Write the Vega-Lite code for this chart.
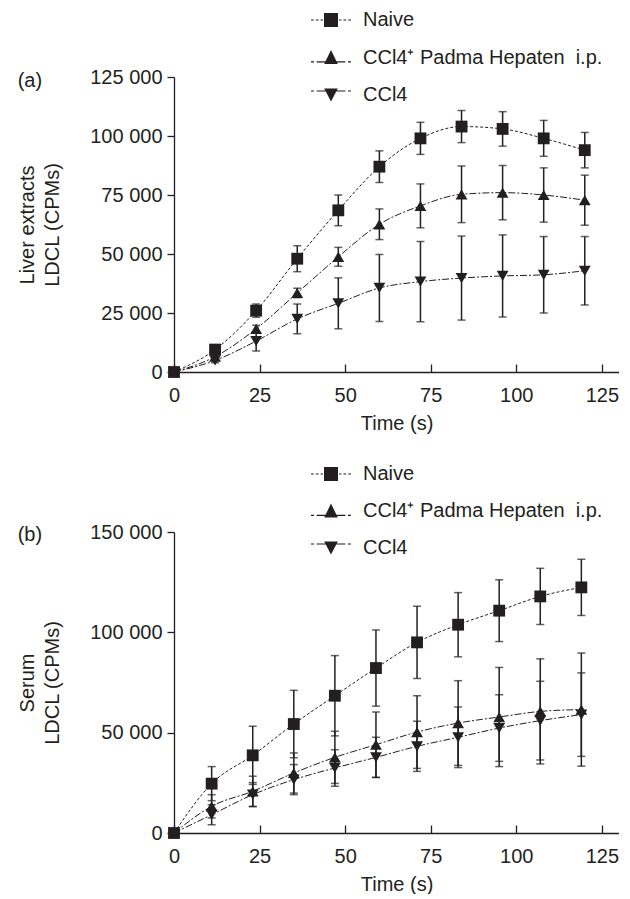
{
  "$schema": "https://vega.github.io/schema/vega-lite/v6.json",
  "autosize": {"type": "pad"},
  "padding": {"left": 17, "top": 0, "right": 0, "bottom": 0},
  "background": "white",
  "config": {
    "locale": {"number": {"decimal": ".", "thousands": " ", "grouping": [3], "currency": ["", ""]}},
    "font": "Liberation Sans",
    "view": {"stroke": null},
    "concat": {"spacing": 21},
    "axis": {
      "grid": false,
      "labelFont": "Liberation Sans", "labelFontSize": 20, "labelColor": "#231f20",
      "titleFont": "Liberation Sans", "titleFontSize": 20, "titleFontWeight": "normal", "titleColor": "#231f20",
      "domainColor": "#231f20", "domainWidth": 1.3, "tickColor": "#231f20", "tickWidth": 1.3,
      "labelFlush": false, "labelOverlap": false
    },
    "legend": {
      "labelFont": "Liberation Sans", "labelFontSize": 20, "labelColor": "#231f20", "labelLimit": 400,
      "padding": 0, "symbolStrokeWidth": 0, "symbolFillColor": "#231f20", "symbolStrokeColor": "transparent"
    },
    "title": {"font": "Liberation Sans", "fontSize": 20, "fontWeight": "normal", "color": "#231f20"}
  },
  "datasets": {
    "d": [
      {"panel": "a", "series": "Naive", "t": 0, "v": 0, "e": 0},
      {"panel": "a", "series": "Naive", "t": 12, "v": 9500, "e": 1200},
      {"panel": "a", "series": "Naive", "t": 24, "v": 26000, "e": 2800},
      {"panel": "a", "series": "Naive", "t": 36, "v": 48000, "e": 5500},
      {"panel": "a", "series": "Naive", "t": 48, "v": 68500, "e": 6500},
      {"panel": "a", "series": "Naive", "t": 60, "v": 87000, "e": 6700},
      {"panel": "a", "series": "Naive", "t": 72, "v": 99000, "e": 6800},
      {"panel": "a", "series": "Naive", "t": 84, "v": 104000, "e": 6800},
      {"panel": "a", "series": "Naive", "t": 96, "v": 103000, "e": 7300},
      {"panel": "a", "series": "Naive", "t": 108, "v": 99000, "e": 7600},
      {"panel": "a", "series": "Naive", "t": 120, "v": 94000, "e": 7500},
      {"panel": "a", "series": "CCl4⁺ Padma Hepaten\u00a0 i.p.", "t": 0, "v": 0, "e": 0},
      {"panel": "a", "series": "CCl4⁺ Padma Hepaten\u00a0 i.p.", "t": 12, "v": 6500, "e": 800},
      {"panel": "a", "series": "CCl4⁺ Padma Hepaten\u00a0 i.p.", "t": 24, "v": 18300, "e": 1500},
      {"panel": "a", "series": "CCl4⁺ Padma Hepaten\u00a0 i.p.", "t": 36, "v": 33500, "e": 2000},
      {"panel": "a", "series": "CCl4⁺ Padma Hepaten\u00a0 i.p.", "t": 48, "v": 48800, "e": 4000},
      {"panel": "a", "series": "CCl4⁺ Padma Hepaten\u00a0 i.p.", "t": 60, "v": 62600, "e": 6500},
      {"panel": "a", "series": "CCl4⁺ Padma Hepaten\u00a0 i.p.", "t": 72, "v": 70400, "e": 9300},
      {"panel": "a", "series": "CCl4⁺ Padma Hepaten\u00a0 i.p.", "t": 84, "v": 75300, "e": 12000},
      {"panel": "a", "series": "CCl4⁺ Padma Hepaten\u00a0 i.p.", "t": 96, "v": 76000, "e": 11500},
      {"panel": "a", "series": "CCl4⁺ Padma Hepaten\u00a0 i.p.", "t": 108, "v": 75000, "e": 11500},
      {"panel": "a", "series": "CCl4⁺ Padma Hepaten\u00a0 i.p.", "t": 120, "v": 72800, "e": 10600},
      {"panel": "a", "series": "CCl4", "t": 0, "v": 0, "e": 0},
      {"panel": "a", "series": "CCl4", "t": 12, "v": 4900, "e": 1000},
      {"panel": "a", "series": "CCl4", "t": 24, "v": 13100, "e": 4200},
      {"panel": "a", "series": "CCl4", "t": 36, "v": 22500, "e": 6300},
      {"panel": "a", "series": "CCl4", "t": 48, "v": 29100, "e": 10800},
      {"panel": "a", "series": "CCl4", "t": 60, "v": 35600, "e": 14200},
      {"panel": "a", "series": "CCl4", "t": 72, "v": 38300, "e": 17000},
      {"panel": "a", "series": "CCl4", "t": 84, "v": 39800, "e": 17800},
      {"panel": "a", "series": "CCl4", "t": 96, "v": 40700, "e": 17400},
      {"panel": "a", "series": "CCl4", "t": 108, "v": 41200, "e": 16200},
      {"panel": "a", "series": "CCl4", "t": 120, "v": 42900, "e": 14500},
      {"panel": "b", "series": "Naive", "t": 0, "v": 0, "e": 0},
      {"panel": "b", "series": "Naive", "t": 11, "v": 24600, "e": 8500},
      {"panel": "b", "series": "Naive", "t": 23, "v": 38700, "e": 14500},
      {"panel": "b", "series": "Naive", "t": 35, "v": 54300, "e": 16800},
      {"panel": "b", "series": "Naive", "t": 47, "v": 68400, "e": 20000},
      {"panel": "b", "series": "Naive", "t": 59, "v": 82200, "e": 19000},
      {"panel": "b", "series": "Naive", "t": 71, "v": 95000, "e": 18000},
      {"panel": "b", "series": "Naive", "t": 83, "v": 103800, "e": 16000},
      {"panel": "b", "series": "Naive", "t": 95, "v": 110800, "e": 15400},
      {"panel": "b", "series": "Naive", "t": 107, "v": 117900, "e": 14000},
      {"panel": "b", "series": "Naive", "t": 119, "v": 122400, "e": 14000},
      {"panel": "b", "series": "CCl4⁺ Padma Hepaten\u00a0 i.p.", "t": 0, "v": 0, "e": 0},
      {"panel": "b", "series": "CCl4⁺ Padma Hepaten\u00a0 i.p.", "t": 11, "v": 13300, "e": 5800},
      {"panel": "b", "series": "CCl4⁺ Padma Hepaten\u00a0 i.p.", "t": 23, "v": 20800, "e": 7500},
      {"panel": "b", "series": "CCl4⁺ Padma Hepaten\u00a0 i.p.", "t": 35, "v": 29900, "e": 10000},
      {"panel": "b", "series": "CCl4⁺ Padma Hepaten\u00a0 i.p.", "t": 47, "v": 37700, "e": 13000},
      {"panel": "b", "series": "CCl4⁺ Padma Hepaten\u00a0 i.p.", "t": 59, "v": 44000, "e": 16300},
      {"panel": "b", "series": "CCl4⁺ Padma Hepaten\u00a0 i.p.", "t": 71, "v": 50300, "e": 18100},
      {"panel": "b", "series": "CCl4⁺ Padma Hepaten\u00a0 i.p.", "t": 83, "v": 54800, "e": 21100},
      {"panel": "b", "series": "CCl4⁺ Padma Hepaten\u00a0 i.p.", "t": 95, "v": 57800, "e": 24700},
      {"panel": "b", "series": "CCl4⁺ Padma Hepaten\u00a0 i.p.", "t": 107, "v": 60600, "e": 26200},
      {"panel": "b", "series": "CCl4⁺ Padma Hepaten\u00a0 i.p.", "t": 119, "v": 61500, "e": 28200},
      {"panel": "b", "series": "CCl4", "t": 0, "v": 0, "e": 0},
      {"panel": "b", "series": "CCl4", "t": 11, "v": 9100, "e": 5000},
      {"panel": "b", "series": "CCl4", "t": 23, "v": 19100, "e": 6000},
      {"panel": "b", "series": "CCl4", "t": 35, "v": 26600, "e": 7500},
      {"panel": "b", "series": "CCl4", "t": 47, "v": 32400, "e": 9100},
      {"panel": "b", "series": "CCl4", "t": 59, "v": 37700, "e": 10000},
      {"panel": "b", "series": "CCl4", "t": 71, "v": 43200, "e": 12500},
      {"panel": "b", "series": "CCl4", "t": 83, "v": 47700, "e": 15100},
      {"panel": "b", "series": "CCl4", "t": 95, "v": 52300, "e": 16600},
      {"panel": "b", "series": "CCl4", "t": 107, "v": 56000, "e": 19600},
      {"panel": "b", "series": "CCl4", "t": 119, "v": 59000, "e": 20800}
    ]
  },
  "vconcat": [
    {
      "width": 445,
      "height": 295,
      "title": {"text": "(a)", "anchor": "start", "frame": "bounds", "baseline": "middle", "offset": -101},
      "data": {"name": "d"},
      "transform": [{"filter": "datum.panel == 'a'"}],
      "encoding": {
        "x": {"field": "t", "type": "quantitative", "scale": {"domain": [0, 130]},
              "axis": {"title": "Time (s)", "values": [0, 25, 50, 75, 100, 125], "tickSize": -8, "labelPadding": 21, "titlePadding": 8}},
        "y": {"field": "v", "type": "quantitative", "scale": {"domain": [0, 125000]},
              "axis": {"title": ["Liver extracts", "LDCL (CPMs)"], "values": [0, 25000, 50000, 75000, 100000, 125000], "format": ",d", "tickSize": 7, "labelPadding": 5, "titlePadding": 27, "titleLineHeight": 25}}
      },
      "layer": [
        {
          "mark": {"type": "line", "interpolate": "monotone", "strokeWidth": 1, "color": "#231f20"},
          "encoding": {
            "detail": {"field": "series", "type": "nominal"},
            "strokeDash": {"field": "series", "type": "nominal",
              "scale": {"domain": ["Naive", "CCl4⁺ Padma Hepaten\u00a0 i.p.", "CCl4"], "range": [[3, 2], [7, 2, 2, 2], [7, 2, 2, 2]]}, "legend": null}
          }
        },
        {
          "mark": {"type": "errorbar", "ticks": {"size": 8, "thickness": 1.5, "color": "#231f20"}, "rule": {"strokeWidth": 1.5, "color": "#231f20"}},
          "encoding": {"yError": {"field": "e"}}
        },
        {
          "mark": {"type": "point", "filled": true, "opacity": 1, "color": "#231f20"},
          "encoding": {
            "shape": {"field": "series", "type": "nominal",
              "scale": {"domain": ["Naive", "CCl4⁺ Padma Hepaten\u00a0 i.p.", "CCl4"], "range": ["square", "triangle-up", "triangle-down"]}, "legend": null},
            "size": {"value": 140}
          }
        },
        {
          "transform": [{"filter": "false"}],
          "mark": {"type": "point", "filled": true, "opacity": 1, "color": "#231f20"},
          "encoding": {
            "shape": {"field": "series", "type": "nominal",
              "scale": {"domain": ["Naive", "CCl4⁺ Padma Hepaten\u00a0 i.p.", "CCl4"],
                "range": [
                  "M-1,-0.03H-0.86V0.03H-1Z M-0.76,-0.03H-0.62V0.03H-0.76Z M-0.52,-0.03H-0.4V0.03H-0.52Z M-0.35,-0.35H0.35V0.35H-0.35Z M0.4,-0.03H0.52V0.03H0.4Z M0.62,-0.03H0.76V0.03H0.62Z M0.86,-0.03H1V0.03H0.86Z",
                  "M-1,0.19H-0.85V0.25H-1Z M-0.72,0.19H-0.25V0.25H-0.72Z M0,-0.37L0.34,0.33H-0.34Z M0.25,0.19H0.72V0.25H0.25Z M0.85,0.19H1V0.25H0.85Z",
                  "M-1,-0.23H-0.85V-0.17H-1Z M-0.72,-0.23H-0.25V-0.17H-0.72Z M-0.34,-0.32H0.34L0,0.33Z M0.25,-0.23H0.72V-0.17H0.25Z M0.85,-0.23H1V-0.17H0.85Z"
                ]},
              "legend": {"title": null, "orient": "none", "legendX": 137, "legendY": -77, "symbolSize": 1600, "labelOffset": 12, "rowPadding": 7.5, "symbolFillColor": "#231f20", "symbolStrokeWidth": 0}}
          }
        }
      ],
      "resolve": {"scale": {"shape": "independent"}, "legend": {"shape": "independent"}}
    },
    {
      "width": 445,
      "height": 301,
      "title": {"text": "(b)", "anchor": "start", "frame": "bounds", "baseline": "middle", "offset": -101},
      "data": {"name": "d"},
      "transform": [{"filter": "datum.panel == 'b'"}],
      "encoding": {
        "x": {"field": "t", "type": "quantitative", "scale": {"domain": [0, 130]},
              "axis": {"title": "Time (s)", "values": [0, 25, 50, 75, 100, 125], "tickSize": -8, "labelPadding": 21, "titlePadding": 8}},
        "y": {"field": "v", "type": "quantitative", "scale": {"domain": [0, 150000]},
              "axis": {"title": ["Serum", "LDCL (CPMs)"], "values": [0, 50000, 100000, 150000], "format": ",d", "tickSize": 7, "labelPadding": 5, "titlePadding": 27, "titleLineHeight": 25}}
      },
      "layer": [
        {
          "mark": {"type": "line", "interpolate": "monotone", "strokeWidth": 1, "color": "#231f20"},
          "encoding": {
            "detail": {"field": "series", "type": "nominal"},
            "strokeDash": {"field": "series", "type": "nominal",
              "scale": {"domain": ["Naive", "CCl4⁺ Padma Hepaten\u00a0 i.p.", "CCl4"], "range": [[3, 2], [7, 2, 2, 2], [7, 2, 2, 2]]}, "legend": null}
          }
        },
        {
          "mark": {"type": "errorbar", "ticks": {"size": 8, "thickness": 1.5, "color": "#231f20"}, "rule": {"strokeWidth": 1.5, "color": "#231f20"}},
          "encoding": {"yError": {"field": "e"}}
        },
        {
          "mark": {"type": "point", "filled": true, "opacity": 1, "color": "#231f20"},
          "encoding": {
            "shape": {"field": "series", "type": "nominal",
              "scale": {"domain": ["Naive", "CCl4⁺ Padma Hepaten\u00a0 i.p.", "CCl4"], "range": ["square", "triangle-up", "triangle-down"]}, "legend": null},
            "size": {"value": 140}
          }
        },
        {
          "transform": [{"filter": "false"}],
          "mark": {"type": "point", "filled": true, "opacity": 1, "color": "#231f20"},
          "encoding": {
            "shape": {"field": "series", "type": "nominal",
              "scale": {"domain": ["Naive", "CCl4⁺ Padma Hepaten\u00a0 i.p.", "CCl4"],
                "range": [
                  "M-1,-0.03H-0.86V0.03H-1Z M-0.76,-0.03H-0.62V0.03H-0.76Z M-0.52,-0.03H-0.4V0.03H-0.52Z M-0.35,-0.35H0.35V0.35H-0.35Z M0.4,-0.03H0.52V0.03H0.4Z M0.62,-0.03H0.76V0.03H0.62Z M0.86,-0.03H1V0.03H0.86Z",
                  "M-1,0.19H-0.85V0.25H-1Z M-0.72,0.19H-0.25V0.25H-0.72Z M0,-0.37L0.34,0.33H-0.34Z M0.25,0.19H0.72V0.25H0.25Z M0.85,0.19H1V0.25H0.85Z",
                  "M-1,-0.23H-0.85V-0.17H-1Z M-0.72,-0.23H-0.25V-0.17H-0.72Z M-0.34,-0.32H0.34L0,0.33Z M0.25,-0.23H0.72V-0.17H0.25Z M0.85,-0.23H1V-0.17H0.85Z"
                ]},
              "legend": {"title": null, "orient": "none", "legendX": 137, "legendY": -78, "symbolSize": 1600, "labelOffset": 12, "rowPadding": 7, "symbolFillColor": "#231f20", "symbolStrokeWidth": 0}}
          }
        }
      ],
      "resolve": {"scale": {"shape": "independent"}, "legend": {"shape": "independent"}}
    }
  ]
}
